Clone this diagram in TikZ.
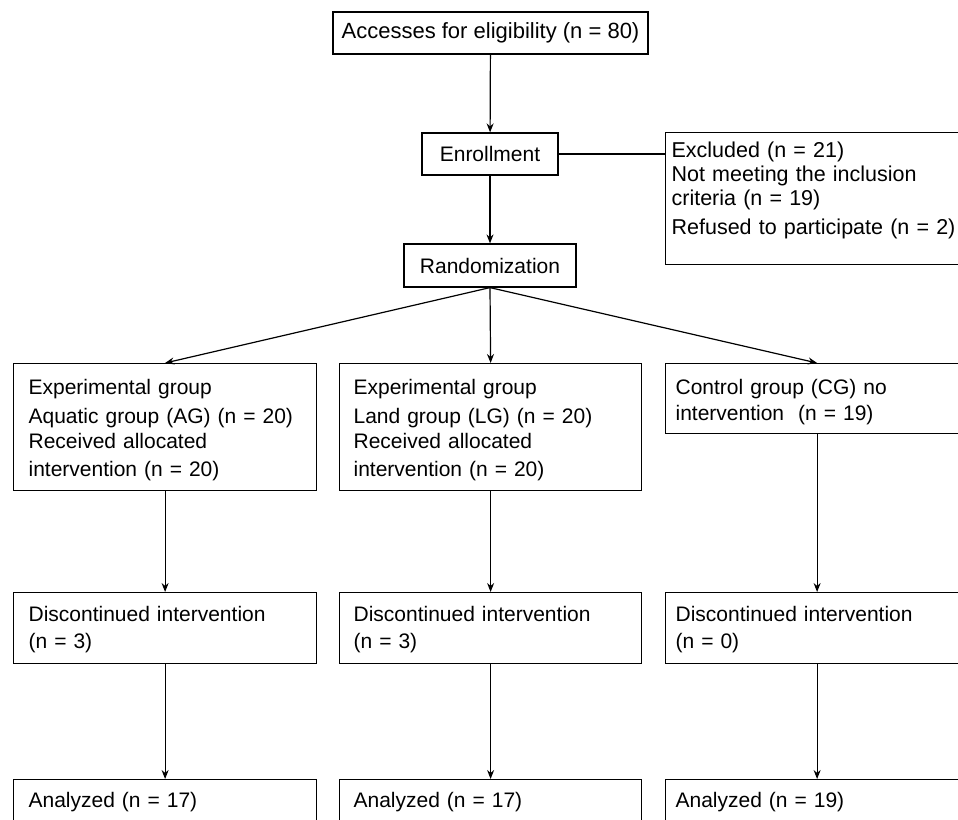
\documentclass[tikz,border=0pt]{standalone}
\usepackage{fontspec}
\setmainfont{Liberation Sans}
\usetikzlibrary{arrows.meta}
\tikzset{
  flow/.style={draw, line width=1.2pt, font=\fontsize{21}{24}\selectfont},
  midbox/.style={flow, inner sep=0pt, align=center},
  grpbox/.style={flow, anchor=north west, align=left, inner xsep=15pt, inner ysep=0pt, text width=273pt},
  arr/.style={-{Stealth[length=9pt,width=7pt]}, line width=1.2pt}
}
\begin{document}
\begin{tikzpicture}[x=1pt, y=-1pt]
  \clip (0,0) rectangle (958,819);
  \draw
    (490.5,33) node[midbox, minimum width=315pt, minimum height=42pt, font=\fontsize{22}{24}\selectfont] (acc) {Accesses for eligibility (n = 80)}
    (490,154) node[midbox, minimum width=136pt, minimum height=42pt] (enr) {Enrollment}
    (490,265.5) node[midbox, minimum width=172pt, minimum height=43pt] (rand) {Randomization}
    (665,132) node[grpbox, inner xsep=6pt, text width=291pt, text height=24.7pt, text depth=107.3pt, font=\fontsize{21.5}{24}\selectfont] (exc)
      {Excluded (n = 21)\\Not meeting the inclusion\\criteria (n = 19)\\[5pt]Refused to participate (n = 2)}
    (13,363) node[grpbox, text height=30.5pt, text depth=96.5pt] (aq)
      {Experimental group\\[5pt]Aquatic group (AG) (n = 20)\\[1pt]Received allocated\\[4pt]intervention (n = 20)}
    (339,363) node[grpbox, inner xsep=14pt, text width=274pt, text height=30.5pt, text depth=96.5pt] (land)
      {Experimental group\\[5pt]Land group (LG) (n = 20)\\[1pt]Received allocated\\[4pt]intervention (n = 20)}
    (665,363) node[grpbox, inner xsep=10pt, text width=283pt, text height=30.5pt, text depth=39.5pt] (ctrl)
      {Control group (CG) no\\[2pt]intervention~ (n = 19)}
    (13,592) node[grpbox, text height=28.5pt, text depth=42.5pt] (aqdc) {Discontinued intervention\\[3pt](n = 3)}
    (339,592) node[grpbox, inner xsep=14pt, text width=274pt, text height=28.5pt, text depth=42.5pt] (landdc) {Discontinued intervention\\[3pt](n = 3)}
    (665,592) node[grpbox, inner xsep=10pt, text width=283pt, text height=28.5pt, text depth=42.5pt] (ctrldc) {Discontinued intervention\\[3pt](n = 0)}
    (13,779) node[grpbox, text height=27.5pt, text depth=18.5pt] (aqan) {Analyzed (n = 17)}
    (339,779) node[grpbox, inner xsep=14pt, text width=274pt, text height=27.5pt, text depth=18.5pt] (landan) {Analyzed (n = 17)}
    (665,779) node[grpbox, inner xsep=10pt, text width=283pt, text height=27.5pt, text depth=18.5pt] (ctrlan) {Analyzed (n = 19)};
  \begin{scope}[arr]
    \draw (acc) to (enr);
    \draw (enr) to (rand);
    \draw (rand.south) to (aq.north);
    \draw (rand.south) to (land.north);
    \draw (rand.south) to (ctrl.north);
    \draw (aq) to (aqdc);
    \draw (land) to (landdc);
    \draw (ctrl) to (ctrldc);
    \draw (aqdc) to (aqan);
    \draw (landdc) to (landan);
    \draw (ctrldc) to (ctrlan);
  \end{scope}
  \draw[line width=1.2pt] (enr.east) -- (enr.east -| exc.west);
\end{tikzpicture}
\end{document}
